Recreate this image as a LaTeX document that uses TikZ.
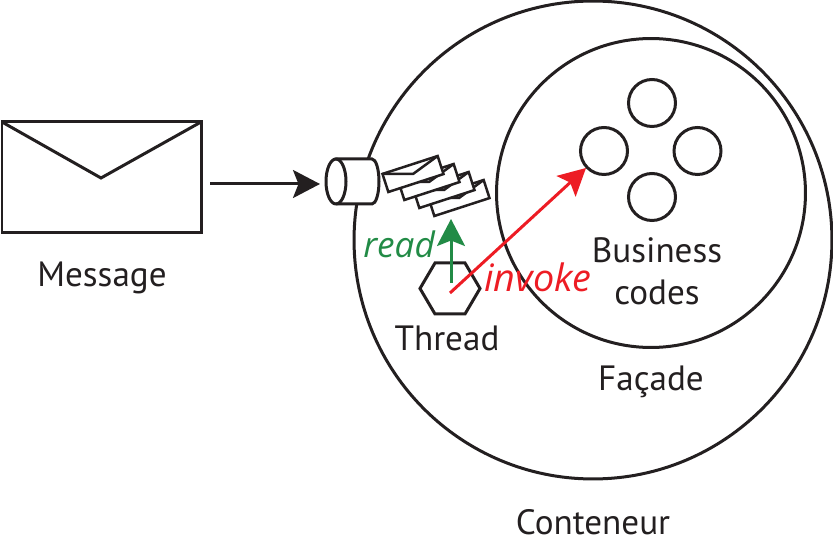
\documentclass[tikz,border=0pt]{standalone}
\usepackage{fontspec}
\setmainfont{PT Sans}
\newfontfamily\itfam{Open Sans}
\usetikzlibrary{arrows.meta,shapes.geometric}
\definecolor{myred}{RGB}{237,28,36}
\definecolor{mygreen}{RGB}{34,139,70}
\definecolor{myblack}{RGB}{35,31,32}
\tikzset{
 px/.style={x=0.02cm,y=-0.02cm},
 ln/.style={draw=myblack,line width=0.06cm},
 thinln/.style={draw=myblack,line width=0.05cm},
 lab/.style={font=\fontsize{20}{24}\selectfont,text=myblack,inner sep=0pt,align=center,anchor=base},
 itlab/.style={inner sep=0pt,anchor=base west},
 ball/.style={circle,ln,minimum size=0.94cm,inner sep=0pt},
 arr/.style={-{Stealth[length=0.54cm,width=0.56cm,inset=0.11cm]},line width=0.06cm}
}
\begin{document}
\begin{tikzpicture}[px]
\useasboundingbox (0,0) rectangle (833,544);
\node[circle,ln,minimum size=9.56cm,inner sep=0pt] (cont) at (593,240) {};
\node[circle,ln,minimum size=6.18cm,inner sep=0pt] (fac) at (651,193) {};
% big envelope
\draw[ln] (2,122) rectangle (201,233);
\draw[ln] (2,122) -- (101,178) -- (201,122);
\node[lab] (msg) at (102,287) {Message};
\coordinate (msgr) at (210,184);
% cylinder
\path[ln,fill=white] (336,159) -- (372,159) arc[start angle=90,end angle=-90,x radius=0.14cm,y radius=0.45cm] -- (336,204) arc[start angle=-90,end angle=-270,x radius=0.2cm,y radius=0.45cm] -- cycle;
\draw[ln] (336,159) arc[start angle=90,end angle=-90,x radius=0.2cm,y radius=0.45cm];
\coordinate (cyl) at (320,184);
\draw[arr,draw=myblack,fill=myblack] (msgr) -- (cyl);
% small envelopes, back to front
\foreach \p/\q in {459/198,444/190,429/182,413/174}{
 \begin{scope}[shift={(\p,\q)},rotate=18]
 \draw[thinln,fill=white] (-29,-9.5) rectangle (29,9.5);
 \draw[thinln] (-29,-9.5) -- (0,0) -- (29,-9.5);
 \end{scope}}
% balls
\node[ball] (b1) at (652,103) {};
\node[ball] (b2) at (604,151) {};
\node[ball] (b3) at (697.5,151) {};
\node[ball] (b4) at (652,197) {};
\node[lab] (bc) at (657,305) {Business\\codes};
\node[lab] (fc) at (651,391) {Façade};
\node[lab] (ct) at (593,535) {Conteneur};
\node[lab] (th) at (447,351) {Thread};
% hexagon
\draw[ln,line join=miter] (420,288.5) -- (435,263) -- (465,263) -- (480,288.5) -- (465,314) -- (435,314) -- cycle;
\coordinate (hc) at (450,293);
\coordinate (gc) at (451,283);
\coordinate (gt) at (451,219);
\coordinate (rt) at (586,168);
\draw[arr,draw=mygreen,fill=mygreen] (gc) -- (gt);
\draw[arr,draw=myred,fill=myred] (hc) -- (rt);
\node[itlab,text=mygreen,font=\fontsize{20}{24}\selectfont\itfam\itshape] (rd) at (363,258) {read};
\node[itlab,text=myred,font=\fontsize{21.5}{24}\selectfont\itfam\itshape] (iv) at (484,292) {invoke};
\end{tikzpicture}
\end{document}
